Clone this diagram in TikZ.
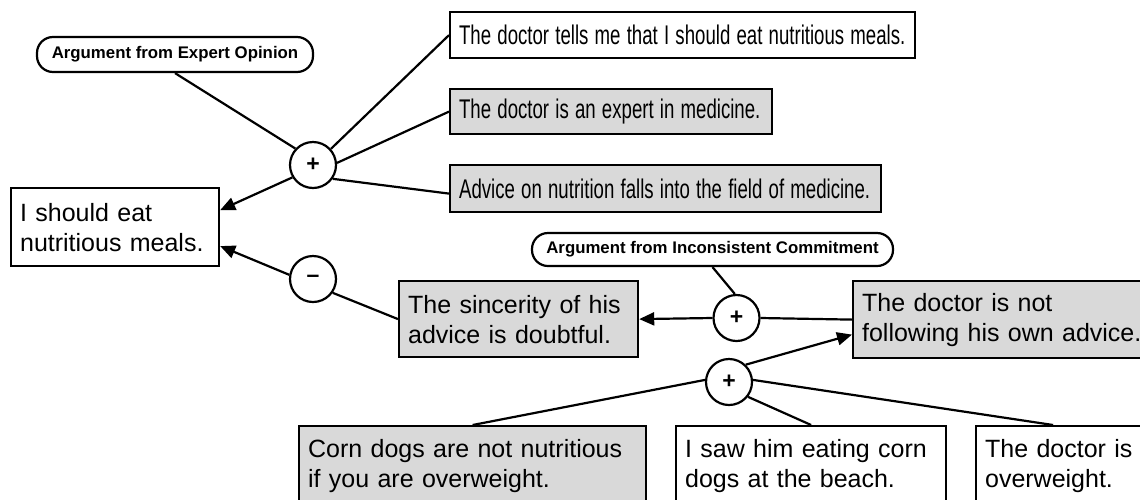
\documentclass[tikz,border=0pt]{standalone}
\usepackage{fontspec}
\setmainfont{Liberation Sans}
\usepackage{graphicx}
\usetikzlibrary{arrows.meta}
\definecolor{boxgrey}{RGB}{217,217,217}
\newcommand{\narrowtext}[1]{\scalebox{0.69}[1]{#1}}
\tikzset{
  stmt/.style={draw=black, line width=2.2pt, inner xsep=9pt, inner ysep=0pt,
    anchor=north west, align=left, font=\fontsize{25}{30}\selectfont},
  narrowstmt/.style={stmt, font=\fontsize{27}{30}\selectfont},
  greybox/.style={fill=boxgrey},
  whitebox/.style={fill=white},
  scheme/.style={draw=black, line width=2.2pt, rounded corners=16pt, inner sep=0pt,
    fill=white, font=\bfseries\fontsize{16.8}{20}\selectfont},
  junction/.style={circle, draw=black, line width=2.2pt, minimum size=46pt, inner sep=0pt,
    fill=white, font=\bfseries\fontsize{23}{23}\selectfont},
  link/.style={line width=2.2pt},
  arr/.style={line width=2.2pt, -{Triangle[length=15pt,width=13pt]}},
}
\begin{document}
\begin{tikzpicture}[x=1pt, y=-1pt]
\useasboundingbox (0,0) rectangle (1140,499);
% statements
\node[stmt, whitebox, text width=190pt, minimum height=78pt] (claim) at (10,187)
  {I should eat\\nutritious meals.};
\node[narrowstmt, whitebox, text width=447pt, minimum height=46pt] (b1) at (449,11)
  {\narrowtext{The doctor tells me that I should eat nutritious meals.}};
\node[narrowstmt, greybox, text width=304pt, minimum height=45pt] (b2) at (449,88)
  {\narrowtext{The doctor is an expert in medicine.}};
\node[narrowstmt, greybox, text width=413pt, minimum height=47pt] (b3) at (449,164)
  {\narrowtext{Advice on nutrition falls into the field of medicine.}};
\node[stmt, greybox, text width=221pt, minimum height=76pt] (sinc) at (398,280)
  {The sincerity of his\\advice is doubtful.};
\node[stmt, greybox, text width=292pt, minimum height=77pt] (notf) at (852,280)
  {The doctor is not\\following his own advice.};
\node[stmt, greybox, text width=329pt, minimum height=80pt] (corn) at (298,425)
  {Corn dogs are not nutritious\\if you are overweight.};
\node[stmt, whitebox, text width=252pt, minimum height=80pt] (saw) at (675,425)
  {I saw him eating corn\\dogs at the beach.};
\node[stmt, whitebox, text width=148pt, minimum height=80pt] (ow) at (975,425)
  {The doctor is\\overweight.};
% schemes
\node[scheme, minimum width=276pt, minimum height=35pt] (lab1) at (175,54.5)
  {Argument from Expert Opinion};
\node[scheme, minimum width=361pt, minimum height=33pt] (lab2) at (712.5,249.5)
  {Argument from Inconsistent Commitment};
% junctions
\node[junction] (p1) at (313,165) {+};
\node[junction] (m1) at (313,279) {–};
\node[junction] (p2) at (736.5,318) {+};
\node[junction] (p3) at (729,382) {+};
% connectors
\draw[link] (lab1.south) -- (p1.137);
\draw[link] (b1.west) -- (p1.42);
\draw[link] (b2.west) -- (p1.5);
\draw[link] ([yshift=-5pt]b3.west) -- (p1.-35);
\draw[arr] (p1.211) -- ([yshift=17pt]claim.east);
\draw[arr] (m1.170) -- ([yshift=-19pt]claim.east);
\draw[link] (sinc.west) -- (m1.-35);
\draw[link] (lab2.south) -- (p2.94);
\draw[arr] (p2.west) -- (sinc.east);
\draw[link] (notf.west) -- (p2.east);
\draw[arr] (p3.46) -- ([yshift=-15pt]notf.west);
\draw[link] (corn.north) -- (p3.175);
\draw[link] (saw.north) -- (p3.-38);
\draw[link] ([xshift=-6pt]ow.north) -- (p3.5);
\end{tikzpicture}
\end{document}
